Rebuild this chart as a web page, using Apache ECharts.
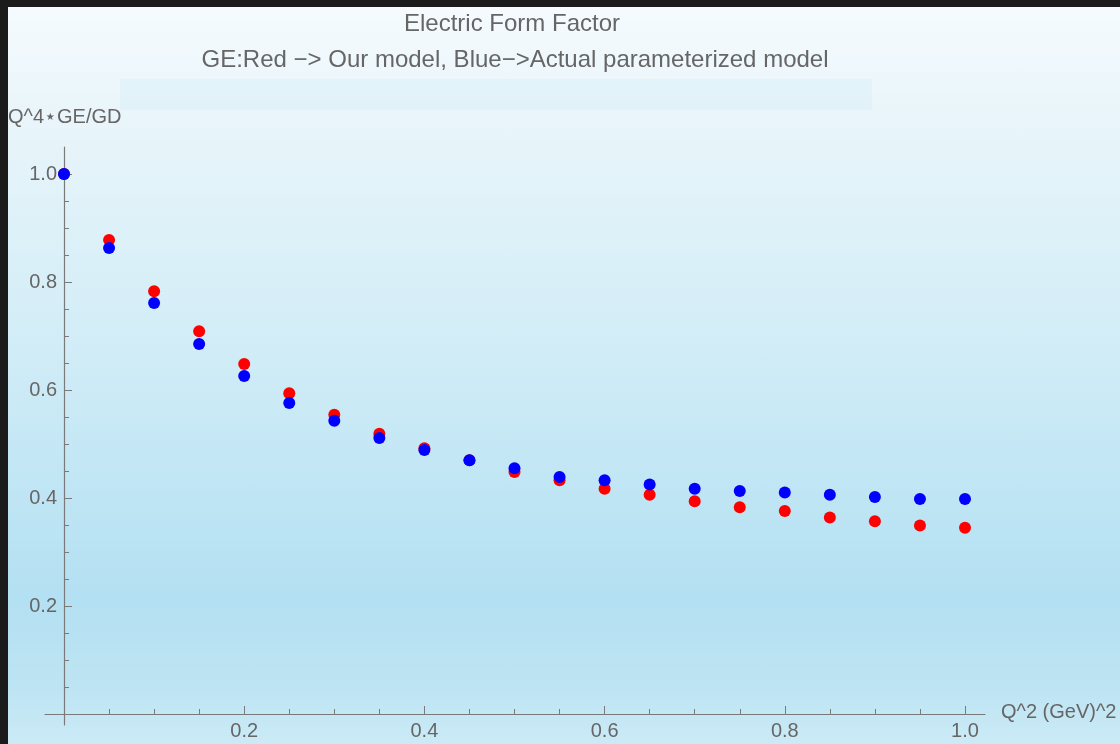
<!DOCTYPE html>
<html>
<head>
<meta charset="utf-8">
<script src="https://cdn.jsdelivr.net/npm/echarts@6/dist/echarts.min.js"></script>
<style>
  html, body { margin: 0; padding: 0; background: #1b1b1b; }
  #wrap { position: relative; width: 1120px; height: 744px; overflow: hidden; }
  #panel {
    position: absolute; left: 8px; top: 7px; right: 0; bottom: 0;
    background: linear-gradient(to bottom, #f5fbfe 0%, #e9f5fa 15%, #d2edf7 45%, #b3e0f2 80%, #bde4f3 92%, #cbeaf6 100%);
  }
  #chart { position: absolute; left: 0; top: 0; width: 1120px; height: 744px; }
</style>
</head>
<body>
<div id="wrap">
  <div id="panel"></div>
  <div id="chart"></div>
</div>
<script>
// Q^2 values (GeV^2)
var q2 = [0, 0.05, 0.1, 0.15, 0.2, 0.25, 0.3, 0.35, 0.4, 0.45, 0.5, 0.55, 0.6, 0.65, 0.7, 0.75, 0.8, 0.85, 0.9, 0.95, 1.0];
// our model (red)
var ourModel = [1.0, 0.878, 0.783, 0.709, 0.648, 0.594, 0.554, 0.519, 0.492, 0.470, 0.448, 0.433, 0.417, 0.406, 0.394, 0.383, 0.376, 0.364, 0.357, 0.349, 0.345];
// actual parameterized model (blue)
var actualModel = [1.0, 0.863, 0.761, 0.685, 0.626, 0.576, 0.543, 0.511, 0.489, 0.470, 0.455, 0.439, 0.433, 0.425, 0.417, 0.413, 0.410, 0.406, 0.402, 0.398, 0.398];

function pairs(xs, ys) {
  return xs.map(function (x, i) { return [x, ys[i]]; });
}

var chart = echarts.init(document.getElementById('chart'));
var font = 'Liberation Sans, Arial, sans-serif';
var gray = '#666666';
var axisGray = '#7a7a7a';

function fmt(v) { return v === 0 ? '' : v.toFixed(1); }

var option = {
  backgroundColor: 'transparent',
  animation: false,
  title: [
    { text: 'Electric Form Factor', left: 507, top: 7, textAlign: 'center',
      textStyle: { fontFamily: font, fontSize: 24, fontWeight: 'normal', color: gray } },
    { text: 'GE:Red \u2212> Our model, Blue\u2212>Actual parameterized model', left: 510, top: 43, textAlign: 'center',
      textStyle: { fontFamily: font, fontSize: 24, fontWeight: 'normal', color: gray } }
  ],
  graphic: [
    { type: 'rect', shape: { x: 120, y: 79, width: 752, height: 31 }, style: { fill: 'rgba(215,238,246,0.45)' }, silent: true },
    { type: 'text', left: 8, top: 107, style: { text: 'Q^4\u22c6GE/GD', fontFamily: font, fontSize: 20, fill: gray } },
    { type: 'text', left: 1001, top: 702, style: { text: 'Q^2 (GeV)^2', fontFamily: font, fontSize: 20, fill: gray } }
  ],
  grid: [
    { left: 64, right: 155, top: 174, bottom: 30 },
    { left: 45, right: 135, top: 147, bottom: 19 }
  ],
  xAxis: [
    {
      gridIndex: 0, type: 'value', min: 0, max: 1, interval: 0.2,
      axisLine: { show: false },
      axisTick: { show: true, inside: true, length: 8, lineStyle: { color: axisGray } },
      minorTick: { show: true, splitNumber: 4, length: 5, lineStyle: { color: axisGray } },
      splitLine: { show: false },
      axisLabel: { formatter: fmt, fontFamily: font, fontSize: 20, color: gray, margin: 7 }
    },
    {
      gridIndex: 1, type: 'value', min: -0.021, max: 1.022,
      axisLine: { show: true, onZero: true, lineStyle: { color: axisGray, width: 1.2 } },
      axisTick: { show: false }, axisLabel: { show: false }, splitLine: { show: false }
    }
  ],
  yAxis: [
    {
      gridIndex: 0, type: 'value', min: 0, max: 1, interval: 0.2,
      axisLine: { show: false },
      axisTick: { show: true, inside: true, length: 8, lineStyle: { color: axisGray } },
      minorTick: { show: true, splitNumber: 4, length: 5, lineStyle: { color: axisGray } },
      splitLine: { show: false },
      axisLabel: { formatter: fmt, fontFamily: font, fontSize: 20, color: gray, margin: 7 }
    },
    {
      gridIndex: 1, type: 'value', min: -0.02, max: 1.05,
      axisLine: { show: true, onZero: true, lineStyle: { color: axisGray, width: 1.2 } },
      axisTick: { show: false }, axisLabel: { show: false }, splitLine: { show: false }
    }
  ],
  series: [
    {
      name: 'Our model', type: 'scatter', xAxisIndex: 0, yAxisIndex: 0,
      data: pairs(q2, ourModel), symbolSize: 12, clip: false,
      itemStyle: { color: '#ff0000', opacity: 1 }
    },
    {
      name: 'Actual parameterized model', type: 'scatter', xAxisIndex: 0, yAxisIndex: 0,
      data: pairs(q2, actualModel), symbolSize: 12, clip: false,
      itemStyle: { color: '#0000ff', opacity: 1 }
    }
  ]
};

chart.setOption(option);
</script>
</body>
</html>
